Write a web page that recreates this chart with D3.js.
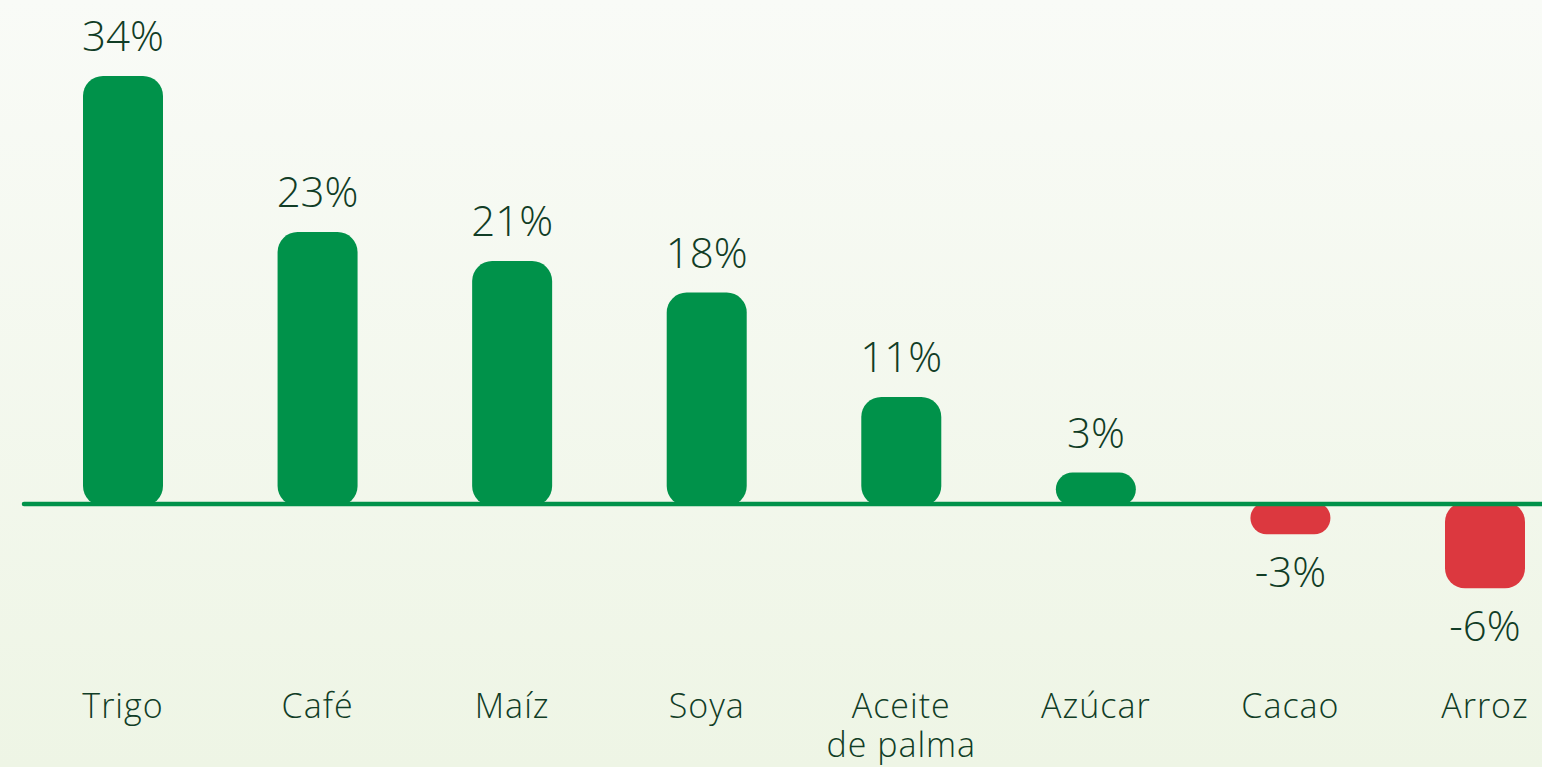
<!DOCTYPE html>
<html>
<head>
<meta charset="utf-8">
<script src="https://cdn.jsdelivr.net/npm/d3@7"></script>
<style>
  html, body { margin: 0; padding: 0; overflow: hidden; }
  text { font-family: "Open Sans", sans-serif; font-weight: 300; fill: #113d26; }
</style>
</head>
<body>
<script>
var width = 1542;
var height = 767;

var categories = ["Trigo", "Café", "Maíz", "Soya", "Aceite de palma", "Azúcar", "Cacao", "Arroz"];
// bar lengths as drawn in the picture
var values = [34, 21.6, 19.3, 16.8, 8.5, 2.5, -2.4, -6.7];
// the printed labels
var labels = ["34%", "23%", "21%", "18%", "11%", "3%", "-3%", "-6%"];

var green = "#00924a";
var red = "#dc383f";

var svg = d3.select("body")
    .append("svg")
    .attr("width", width)
    .attr("height", height)

var defs = svg.append("defs")
var grad = defs.append("linearGradient")
    .attr("id", "bg")
    .attr("x1", 0).attr("y1", 0).attr("x2", 0).attr("y2", 1)
grad.append("stop").attr("offset", "0%").attr("stop-color", "#f9fbf7")
grad.append("stop").attr("offset", "100%").attr("stop-color", "#eef5e5")

svg.append("rect")
    .attr("width", width)
    .attr("height", height)
    .attr("fill", "url(#bg)")

var xScale = d3.scalePoint()
    .domain(categories)
    .range([123, 1485])

var yScale = d3.scaleLinear()
    .domain([0, 34])
    .range([504, 76])

var barWidth = 80;
var y0 = yScale(0);

svg.selectAll(".bar")
    .data(values)
    .enter()
    .append("rect")
    .attr("class", "bar")
    .attr("x", function (d, i) { return xScale(categories[i]) - barWidth / 2 })
    .attr("y", function (d) { return d >= 0 ? yScale(d) : y0 - 2 })
    .attr("width", barWidth)
    .attr("height", function (d) { return Math.abs(yScale(d) - y0) + 2 })
    .attr("rx", function (d) { return Math.min(20, (Math.abs(yScale(d) - y0) + 2) / 2) })
    .attr("fill", function (d) { return d >= 0 ? green : red })

// zero line
svg.append("line")
    .attr("x1", 24)
    .attr("x2", width + 10)
    .attr("y1", y0)
    .attr("y2", y0)
    .attr("stroke", green)
    .attr("stroke-width", 4.5)
    .attr("stroke-linecap", "round")

svg.selectAll(".val")
    .data(values)
    .enter()
    .append("text")
    .attr("class", "val")
    .attr("x", function (d, i) { return xScale(categories[i]) })
    .attr("y", function (d) { return d >= 0 ? yScale(d) - 25 : yScale(d) + 53 })
    .attr("text-anchor", "middle")
    .style("font-size", "42px")
    .text(function (d, i) { return labels[i] })

var cat = svg.selectAll(".cat")
    .data(categories)
    .enter()
    .append("text")
    .attr("class", "cat")
    .attr("x", function (d) { return xScale(d) })
    .attr("y", 718)
    .attr("text-anchor", "middle")
    .style("font-size", "34px")
    .style("letter-spacing", "1px")

cat.each(function (d) {
    var words = d === "Aceite de palma" ? ["Aceite", "de palma"] : [d];
    var t = d3.select(this);
    words.forEach(function (w, j) {
        t.append("tspan")
            .attr("x", xScale(d))
            .attr("dy", j === 0 ? 0 : 39)
            .text(w)
    })
})
</script>
</body>
</html>
